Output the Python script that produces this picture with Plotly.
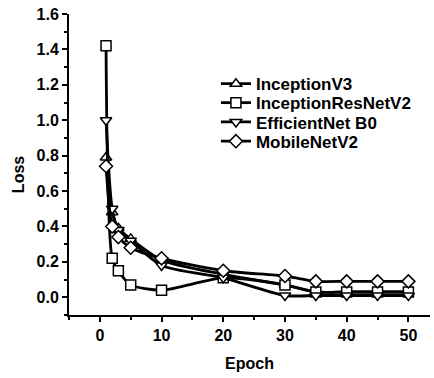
import plotly.graph_objects as go

epochs = [1, 2, 3, 5, 10, 20, 30, 35, 40, 45, 50]
inception_v3 = [0.79, 0.48, 0.39, 0.33, 0.21, 0.13, 0.07, 0.03, 0.03, 0.03, 0.03]
inception_resnet_v2 = [1.42, 0.22, 0.15, 0.07, 0.04, 0.11, 0.07, 0.03, 0.03, 0.03, 0.03]
efficientnet_b0 = [1.00, 0.50, 0.38, 0.32, 0.18, 0.11, 0.01, 0.01, 0.01, 0.01, 0.01]
mobilenet_v2 = [0.74, 0.40, 0.34, 0.28, 0.22, 0.15, 0.12, 0.09, 0.09, 0.09, 0.09]

series_names = ["InceptionV3", "InceptionResNetV2", "EfficientNet B0", "MobileNetV2"]
series_values = [inception_v3, inception_resnet_v2, efficientnet_b0, mobilenet_v2]
series_symbols = ["triangle-up", "square", "triangle-down", "diamond"]

FAM = "Liberation Sans, Arial, sans-serif"
legend_ids = ["legend", "legend2", "legend3", "legend4"]
legend_rows = [0.767, 0.704, 0.640, 0.576]

fig = go.Figure()
for name, vals, sym, lid in zip(series_names, series_values, series_symbols, legend_ids):
    fig.add_trace(go.Scatter(
        x=epochs, y=vals, name=name, mode="lines+markers", legend=lid,
        line=dict(color="black", width=2.8, shape="spline", smoothing=0.7),
        marker=dict(symbol=sym, size=10, color="white",
                    line=dict(color="black", width=1.5)),
    ))

legend_style = dict(xanchor="left", yanchor="middle", bgcolor="rgba(0,0,0,0)",
                    font=dict(family=FAM, size=17, color="black", weight="bold"),
                    itemwidth=30, borderwidth=0)
layout_legends = {}
for lid, yrow in zip(legend_ids, legend_rows):
    layout_legends[lid] = dict(x=0.407, y=yrow, **legend_style)

fig.update_layout(
    width=434, height=378,
    margin=dict(l=69, r=4, t=14, b=63, autoexpand=False),
    paper_bgcolor="white", plot_bgcolor="white",
    font=dict(family=FAM, color="black", size=16),
    showlegend=True,
    xaxis=dict(
        range=[-5, 53.5], tickvals=[0, 10, 20, 30, 40, 50],
        ticks="outside", ticklen=5, tickwidth=1.5, tickcolor="black",
        minor=dict(tickvals=[-5, 5, 15, 25, 35, 45], ticks="outside",
                   ticklen=3, tickwidth=1.5, tickcolor="black"),
        showline=True, linecolor="black", linewidth=2,
        showgrid=False, zeroline=False, automargin=False,
        tickfont=dict(size=16, weight="bold"),
        title=dict(text="Epoch", font=dict(size=16, weight="bold"), standoff=15),
    ),
    yaxis=dict(
        range=[-0.1, 1.6], tickvals=[0.0, 0.2, 0.4, 0.6, 0.8, 1.0, 1.2, 1.4, 1.6],
        tickformat=".1f", ticklabeloverflow="allow",
        ticks="outside", ticklen=5, tickwidth=1.5, tickcolor="black",
        minor=dict(tickvals=[-0.1, 0.1, 0.3, 0.5, 0.7, 0.9, 1.1, 1.3, 1.5],
                   ticks="outside", ticklen=3, tickwidth=1.5, tickcolor="black"),
        showline=True, linecolor="black", linewidth=2,
        showgrid=False, zeroline=False, automargin=False,
        tickfont=dict(size=16, weight="bold"),
    ),
    annotations=[dict(
        text="Loss", textangle=-90, xref="paper", yref="paper",
        x=-0.141, y=0.465, xanchor="center", yanchor="middle", showarrow=False,
        font=dict(family=FAM, size=16, color="black", weight="bold"),
    )],
    **layout_legends,
)

fig.write_html("out.html", config={"displayModeBar": False},
               post_script="document.body.style.margin='0';document.body.style.overflow='hidden';")
